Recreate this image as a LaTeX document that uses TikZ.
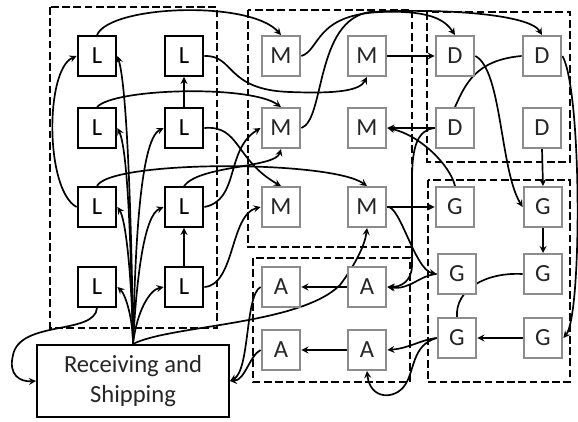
\documentclass[tikz,border=0pt]{standalone}
\usepackage{fontspec}
\setmainfont{Carlito}
\usetikzlibrary{backgrounds}

\definecolor{boxgray}{RGB}{140,140,140}

\tikzset{
  lbox/.style={draw, line width=1.4pt, fill=white, minimum width=0.97cm,
    minimum height=1cm, inner sep=0pt, font=\fontsize{17.5}{20}\selectfont},
  gbox/.style={lbox, draw=boxgray, text=black!85},
  zone/.style={line width=1.6pt, dash pattern=on 5.5pt off 2.5pt},
  flow/.style={->, line width=1.2pt},
  link/.style={line width=1.2pt},
}

\begin{document}
\begin{tikzpicture}[x=0.025cm, y=-0.025cm, >=stealth]
    % 1 unit = 1 px, y goes down
    \useasboundingbox (0,0) rectangle (578,421);

    % L block
    \node[lbox] (L11) at (97,56) {L};
    \node[lbox] (L12) at (184,56) {L};
    \node[lbox] (L21) at (97,128) {L};
    \node[lbox] (L22) at (184,128) {L};
    \node[lbox] (L31) at (97,207) {L};
    \node[lbox] (L32) at (184,207) {L};
    \node[lbox] (L41) at (97,287) {L};
    \node[lbox] (L42) at (184,287) {L};

    % M block
    \node[gbox] (M11) at (281,56) {M};
    \node[gbox] (M12) at (367,56) {M};
    \node[gbox] (M21) at (281,128) {M};
    \node[gbox] (M22) at (367,128) {M};
    \node[gbox] (M31) at (281,207) {M};
    \node[gbox] (M32) at (367,207) {M};

    % D block
    \node[gbox] (D11) at (455,56) {D};
    \node[gbox] (D12) at (542,56) {D};
    \node[gbox] (D21) at (455,128) {D};
    \node[gbox] (D22) at (542,128) {D};

    % G block
    \node[gbox] (G11) at (455,207) {G};
    \node[gbox] (G12) at (543,207) {G};
    \node[gbox] (G21) at (457,274) {G};
    \node[gbox] (G22) at (543,274) {G};
    \node[gbox] (G31) at (457,338) {G};
    \node[gbox] (G32) at (543,338) {G};

    % A block
    \node[gbox] (A11) at (281,287) {A};
    \node[gbox] (A12) at (367,287) {A};
    \node[gbox] (A21) at (281,350) {A};
    \node[gbox] (A22) at (367,350) {A};

    % Receiving and shipping
    \node[lbox, minimum width=4.8cm, minimum height=1.8cm, align=center,
      font=\fontsize{17.5}{21}\selectfont, text=black!85] (RS) at (133,381)
      {Receiving and\\Shipping};

    \begin{scope}[on background layer]
    % Zones
    \draw[zone] (50,7) rectangle (217,328);
    \draw[zone] (248,10) rectangle (412,247);
    \draw[zone] (427,12) rectangle (570,162);
    \draw[zone] (428,180) rectangle (570,382);
    \draw[zone] (253,258) rectangle (410,382);

    % Fan out of receiving
    \draw[flow] (RS.north) .. controls (132,250) and (128,90) .. (L11.east);
    \draw[flow] (RS.north) .. controls (131,250) and (128,150) .. (L21.east);
    \draw[flow] (RS.north) .. controls (135,250) and (140,140) .. (L22.west);
    \draw[flow] (RS.north) .. controls (132,280) and (126,220) .. (L31.east);
    \draw[flow] (RS.north) .. controls (137,270) and (145,215) .. (L32.west);
    \draw[flow] (RS.north) .. controls (133,320) and (126,295) .. (L41.east);
    \draw[flow] (RS.north) .. controls (137,310) and (150,290) .. (L42.west);

    % Inside L
    \draw[flow] (L22.north) -- (L12.south);
    \draw[flow] (L42.north) -- (L32.south);
    \draw[flow] (L31.west) .. controls (45,190) and (45,70) .. (L11.west);
    \draw[flow] (L41.south) .. controls (95,335) and (20,320) .. (13,355)
        .. controls (8,375) and (20,382) .. (RS.west);

    % L to M
    \draw[flow] (L11.north) .. controls (110,5) and (250,0) .. (M11.north);
    \draw[flow] (L12.east) .. controls (235,55) and (225,90) .. (290,92)
        .. controls (340,94) and (360,90) .. (M12.south);
    \draw[flow] (L21.north) .. controls (115,88) and (250,85) .. (M21.north);
    \draw[flow] (L22.east) .. controls (240,125) and (235,160) .. (M31.north);
    \draw[flow] (L32.east) .. controls (240,200) and (225,150) .. (M21.west);
    \draw[flow] (L31.north) .. controls (110,160) and (330,160) .. (M32.north);
    \draw[flow] (L32.north) .. controls (200,165) and (275,168) .. (M21.south);
    \draw[flow] (L42.east) .. controls (235,285) and (230,215) .. (M31.west);

    % Receiving to M, A back to shipping
    \draw[flow] (RS.north) .. controls (170,325) and (300,325) .. (340,285)
        .. controls (355,265) and (365,245) .. (M32.south);
    \draw[flow] (A11.west) .. controls (245,295) and (250,370) .. (RS.east);
    \draw[flow] (A21.west) .. controls (250,355) and (245,380) .. (RS.east);

    % M out
    \draw[flow] (M12.east) -- (D11.west);
    \draw[flow] (M32.east) -- (G11.west);
    \draw[flow] (M32.east) .. controls (400,205) and (415,270) .. (G21.west);
    \draw[flow] (M11.east) .. controls (320,50) and (315,15) .. (380,12)
        .. controls (430,10) and (445,20) .. (D11.north);
    \draw[flow] (M21.east) .. controls (325,120) and (315,20) .. (370,12)
        .. controls (450,8) and (530,15) .. (D12.north);

    % D out
    \draw[flow] (D21.west) -- (M22.east);
    \draw[flow] (D21.west) .. controls (418,130) and (412,145) .. (412,180)
        -- (412,265) .. controls (412,282) and (400,287) .. (A12.east);
    \draw[link] (D12.west) .. controls (475,60) and (465,85) .. (D21.north);
    \draw[flow] (D11.east) .. controls (502,70) and (500,170) .. (G12.west);
    \draw[flow] (D22.south) -- (G12.north);
    \draw[flow] (D12.east) .. controls (582,90) and (582,315) .. (G32.east);

    % G out
    \draw[flow] (G11.north) .. controls (450,165) and (420,135) .. (M22.east);
    \draw[flow] (G12.south) -- (G22.north);
    \draw[link] (G22.west) .. controls (485,272) and (455,290) .. (G31.north);
    \draw[flow] (G32.west) -- (G31.east);
    \draw[flow] (G21.west) .. controls (420,275) and (410,290) .. (A12.east);
    \draw[flow] (G31.west) .. controls (420,340) and (410,348) .. (A22.east);
    \draw[flow] (G31.west) .. controls (412,345) and (415,370) .. (405,385)
        .. controls (395,400) and (370,400) .. (A22.south);

    % Inside A
    \draw[flow] (A12.west) -- (A11.east);
    \draw[flow] (A22.west) -- (A21.east);
    \end{scope}
\end{tikzpicture}
\end{document}
